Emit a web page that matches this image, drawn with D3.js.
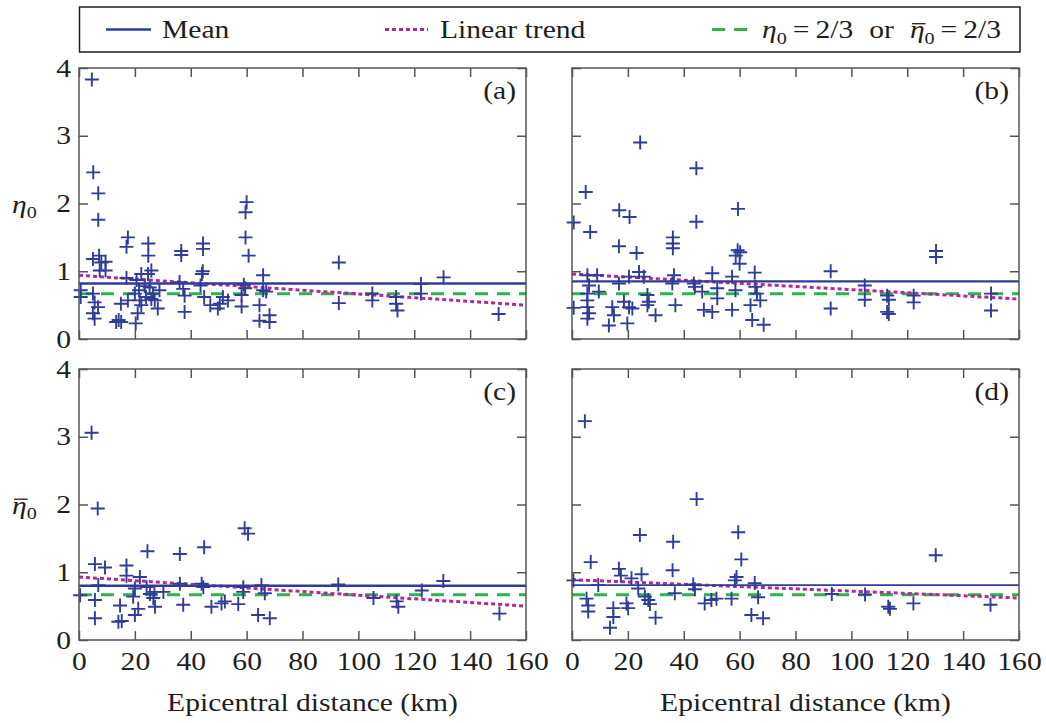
<!DOCTYPE html>
<html>
<head>
<meta charset="utf-8">
<script src="https://cdn.jsdelivr.net/npm/d3@7"></script>
<style>
  html, body { margin: 0; padding: 0; background: #fff; }
  svg text { font-family: "Liberation Serif", "Times New Roman", serif; fill: #1e1e1e; }
  .tick text { font-size: 25.5px; }
</style>
</head>
<body>
<svg id="chart" width="1046" height="723"></svg>
<script>
// ---- data: [epicentral distance (km), value] ----
const ptsA = [
  [4.6,3.83],[5.1,2.46],[6.9,2.15],[6.9,1.76],
  [5.0,1.18],[7.2,1.23],[8.0,1.13],[9.5,1.14],[7.4,1.01],[9.5,1.01],
  [0.6,0.72],[0.6,0.62],
  [5.0,0.67],[5.6,0.54],[6.8,0.47],[5.0,0.38],[5.6,0.30],
  [13.3,0.25],[14.2,0.28],[15.1,0.25],
  [17.5,1.50],[17.0,1.36],[17.0,0.90],[15.0,0.52],[17.5,0.57],
  [20.0,0.67],[21.7,0.57],[22.3,0.50],[21.0,0.38],[20.3,0.23],[20.6,0.87],
  [22.3,0.96],[24.7,0.96],[24.8,1.41],[24.8,1.23],[25.9,1.01],[25.3,0.76],[26.5,0.67],
  [27.1,0.57],[28.8,0.72],[28.2,0.45],[24.0,0.62],[25.9,0.59],[21.5,0.72],[23.5,0.78],
  [36.6,1.30],[36.6,1.24],[36.0,0.84],[37.3,0.74],[37.8,0.64],[37.8,0.40],
  [44.4,1.41],[44.4,1.33],[44.3,1.00],[44.0,0.96],[43.5,0.79],
  [44.8,0.62],[47.0,0.50],[49.7,0.45],[51.5,0.62],[53.3,0.57],[50.4,0.52],
  [60.0,2.02],[59.6,1.87],[59.6,1.50],[60.7,1.23],[59.0,0.80],[59.5,0.75],[58.2,0.65],[58.2,0.48],
  [65.9,0.94],[65.9,0.72],[67.0,0.70],[64.6,0.50],[64.6,0.27],[68.2,0.35],[68.2,0.25],
  [93,1.13],[93,0.53],[105,0.67],[105,0.57],[113.5,0.62],[113.5,0.52],[114,0.42],
  [122.4,0.81],[122.4,0.67],[130.5,0.91],[150.2,0.37]
];
const ptsB = [
  [0.6,1.72],[4.9,2.17],[6.5,1.58],[0.6,0.46],
  [16.9,1.90],[20.6,1.80],[16.8,1.37],[23.1,1.27],[24.4,2.90],
  [44.5,2.52],[44.5,1.73],[36.1,1.50],[36.1,1.41],[36.1,1.34],
  [59.4,1.92],[59.3,1.31],[58.6,1.23],[60.2,1.28],[60.0,1.11],[65.4,0.98],
  [5.5,0.94],[9.0,0.94],[6.1,0.79],[5.5,0.67],[9.6,0.70],[5.5,0.57],[5.5,0.47],[6.1,0.38],[5.5,0.30],
  [16.8,0.82],[20.4,0.92],[24.0,0.99],[25.7,0.92],
  [14.4,0.47],[15.0,0.35],[13.2,0.20],[19.8,0.23],[18.6,0.55],[20.4,0.47],[21.6,0.45],
  [27.0,0.65],[27.5,0.55],[27.0,0.50],[29.9,0.35],
  [36.5,0.94],[35.9,0.82],[37.0,0.50],
  [43.6,0.82],[44.0,0.77],[46.6,0.70],[50.2,0.97],[52.0,0.75],[52.0,0.60],[47.2,0.43],[50.2,0.40],
  [57.3,0.92],[58.5,0.72],[57.3,0.43],
  [65.6,0.77],[66.2,0.67],[67.4,0.57],[63.9,0.50],[64.5,0.28],[68.6,0.21],
  [92.6,1.00],[92.6,0.45],[104.8,0.79],[104.8,0.58],[112.8,0.64],[113.4,0.58],[112.8,0.40],[113.4,0.37],
  [122.3,0.64],[122.3,0.54],[130.3,1.30],[130.3,1.21],[150,0.67],[150,0.42]
];
const ptsC = [
  [4.5,3.06],[6.7,1.94],[5.7,1.12],[9.3,1.07],[17.0,1.10],[24.5,1.31],[36.1,1.27],[44.8,1.37],[59.3,1.65],[60.5,1.57],
  [6.9,0.81],[0.4,0.66],[5.7,0.59],[5.7,0.32],
  [17.0,0.95],[21.8,0.93],[20.0,0.76],[19.4,0.64],[24.2,0.78],[25.4,0.68],[30.2,0.71],
  [14.7,0.51],[21.2,0.46],[20.0,0.37],[14.1,0.27],[15.3,0.28],
  [27.2,0.49],[26.6,0.62],[27.0,0.71],
  [36.1,0.83],[37.3,0.52],[43.9,0.83],[44.5,0.78],
  [47.4,0.49],[52.2,0.57],[51.0,0.54],[57.0,0.53],[58.8,0.78],[58.8,0.71],
  [65.3,0.81],[66.5,0.69],[64.1,0.37],[68.3,0.32],
  [92.8,0.82],[105.4,0.62],[113.7,0.57],[114.3,0.49],[122.7,0.73],[130.4,0.87],[150.5,0.39]
];
const ptsD = [
  [4.6,3.23],[44.6,2.08],[24.3,1.55],[36.2,1.45],[59.5,1.59],[60.6,1.19],[6.7,1.15],[36.0,1.03],
  [16.8,1.05],[17.5,0.95],[24.9,0.97],[21.3,0.91],[0.5,0.88],[9.4,0.81],
  [23.7,0.76],[26.1,0.64],[27.3,0.59],[27.9,0.53],
  [5.2,0.61],[5.8,0.51],[5.8,0.42],
  [14.8,0.47],[14.8,0.34],[13.6,0.18],[19.5,0.54],[20.1,0.47],[29.9,0.33],
  [36.8,0.69],[43.4,0.82],[44.0,0.75],[47.5,0.54],[49.9,0.59],[51.7,0.61],[57.1,0.61],
  [58.9,0.93],[58.3,0.88],[65.4,0.84],[66.6,0.63],[64.2,0.37],[68.4,0.32],
  [93,0.68],[104.9,0.67],[113.2,0.49],[113.8,0.46],[122.2,0.54],[130.2,1.25],[149.8,0.52]
];

const panelTags  = ['(a)', '(b)', '(c)', '(d)'];
const meanVals   = [0.82, 0.85, 0.80, 0.81];
const trendStart = [0.94, 0.96, 0.93, 0.89];   // linear trend at 0 km
const trendEnd   = [0.50, 0.59, 0.50, 0.62];   // linear trend at 160 km
const refVal     = 2 / 3;
const xTicks = [0, 20, 40, 60, 80, 100, 120, 140, 160];
const yTicks = [0, 1, 2, 3, 4];

// ---- layout ----
const BLUE = '#2f3c98', MAGENTA = '#b3279a', GREEN = '#2db34b', FRAME = '#555';
const FS = 25.5, WIDEN = 1.16;   // the original type is set a little wide
const svg = d3.select('#chart');
const PW = 447, PH = 271;
const panels = [
  { pts: ptsA, left: 79,  top: 68,  yLab: true,  xLab: false },
  { pts: ptsB, left: 572, top: 68,  yLab: false, xLab: false },
  { pts: ptsC, left: 79,  top: 369, yLab: true,  xLab: true },
  { pts: ptsD, left: 572, top: 369, yLab: false, xLab: true },
];

const x = d3.scaleLinear().domain([0, 160]).range([0, PW]);
const y = d3.scaleLinear().domain([0, 4]).range([PH, 0]);

// stretch glyphs horizontally to match the source lettering
function widen(sel) {
  sel.each(function() {
    const w = this.getComputedTextLength();
    if (w > 0) d3.select(this).attr('textLength', w * WIDEN).attr('lengthAdjust', 'spacingAndGlyphs');
  });
}

// lay out inline math pieces left to right
function mathText(g, x0, base, parts, size) {
  let cx = x0;
  parts.forEach(p => {
    const fs = p.sub ? size * 0.68 : size;
    const t = g.append('text')
      .attr('x', cx).attr('y', base + (p.sub ? size * 0.22 : 0))
      .style('font-size', fs + 'px')
      .style('font-style', p.it ? 'italic' : 'normal')
      .text(p.t);
    const w = t.node().getComputedTextLength() * WIDEN;
    t.attr('textLength', w).attr('lengthAdjust', 'spacingAndGlyphs');
    if (p.bar) {
      g.append('line')
        .attr('x1', cx + 2).attr('x2', cx + w + 1)
        .attr('y1', base - size * 0.56).attr('y2', base - size * 0.56)
        .attr('stroke', '#1e1e1e').attr('stroke-width', 1.3);
    }
    cx += w + (p.gap || 0);
  });
  return cx;
}

panels.forEach((p, i) => {
  const g = svg.append('g').attr('transform', `translate(${p.left},${p.top})`);

  // ticks (inward on all four sides)
  g.append('g').attr('transform', `translate(0,${PH})`)
    .call(d3.axisBottom(x).tickValues(xTicks).tickSize(-9).tickPadding(12)
      .tickFormat(p.xLab ? d3.format('d') : ''));
  g.append('g').call(d3.axisTop(x).tickValues(xTicks).tickSize(-9).tickFormat(''));
  g.append('g').call(d3.axisLeft(y).tickValues(yTicks).tickSize(-9).tickPadding(8)
    .tickFormat(p.yLab ? d3.format('d') : ''));
  g.append('g').attr('transform', `translate(${PW},0)`)
    .call(d3.axisRight(y).tickValues(yTicks).tickSize(-9).tickFormat(''));
  g.selectAll('.domain').remove();
  g.selectAll('.tick line').attr('stroke', FRAME).attr('stroke-width', 1.5);
  g.selectAll('.tick text').attr('fill', '#1e1e1e').call(widen);

  // reference lines
  g.append('line')
    .attr('x1', x(0)).attr('x2', x(160)).attr('y1', y(refVal)).attr('y2', y(refVal))
    .attr('stroke', GREEN).attr('stroke-width', 3).attr('stroke-dasharray', '13,9');
  g.append('line')
    .attr('x1', x(0)).attr('x2', x(160)).attr('y1', y(trendStart[i])).attr('y2', y(trendEnd[i]))
    .attr('stroke', MAGENTA).attr('stroke-width', 3).attr('stroke-dasharray', '4,3');
  g.append('line')
    .attr('x1', x(0)).attr('x2', x(160)).attr('y1', y(meanVals[i])).attr('y2', y(meanVals[i]))
    .attr('stroke', BLUE).attr('stroke-width', i === 3 ? 1.6 : 2.4);

  // data crosses
  g.append('g').selectAll('path').data(p.pts).join('path')
    .attr('transform', d => `translate(${x(d[0])},${y(d[1])})`)
    .attr('d', 'M-7,0H7M0,-7V7')
    .attr('stroke', BLUE).attr('stroke-width', 1.9).attr('fill', 'none');

  // frame
  g.append('rect').attr('width', PW).attr('height', PH)
    .attr('fill', 'none').attr('stroke', FRAME).attr('stroke-width', 1.5);

  // panel tag
  g.append('text').attr('x', PW - 10).attr('y', 31)
    .attr('text-anchor', 'end').style('font-size', FS + 'px').text(panelTags[i]).call(widen);

  if (p.xLab) {
    g.append('text').attr('x', PW / 2 + 10).attr('y', PH + 71)
      .attr('text-anchor', 'middle').style('font-size', FS + 'px')
      .text('Epicentral distance (km)').call(widen);
  }
  if (p.yLab) {
    mathText(svg, 12, p.top + y(2) + 9,
      [{ t: 'η', it: true, bar: i === 2 }, { t: '0', sub: true }], FS);
  }
});

// ---- legend ----
const lg = svg.append('g');
lg.append('rect').attr('x', 79.5).attr('y', 7).attr('width', 940.5).attr('height', 45)
  .attr('fill', '#fff').attr('stroke', '#1e1e1e').attr('stroke-width', 1.5);
const LY = 29.5, LB = 38;
lg.append('line').attr('x1', 106).attr('x2', 151).attr('y1', LY).attr('y2', LY)
  .attr('stroke', BLUE).attr('stroke-width', 2.5);
lg.append('text').attr('x', 162).attr('y', LB).style('font-size', FS + 'px').text('Mean').call(widen);
lg.append('line').attr('x1', 385).attr('x2', 428).attr('y1', LY).attr('y2', LY)
  .attr('stroke', MAGENTA).attr('stroke-width', 3).attr('stroke-dasharray', '4,3');
lg.append('text').attr('x', 440).attr('y', LB).style('font-size', FS + 'px').text('Linear trend').call(widen);
lg.append('line').attr('x1', 712).attr('x2', 752).attr('y1', LY).attr('y2', LY)
  .attr('stroke', GREEN).attr('stroke-width', 3).attr('stroke-dasharray', '13,9');
mathText(lg, 762, LB, [
  { t: 'η', it: true }, { t: '0', sub: true, gap: 6 },
  { t: '=', gap: 6 }, { t: '2/3', gap: 16 },
  { t: 'or', gap: 16 },
  { t: 'η', it: true, bar: true }, { t: '0', sub: true, gap: 6 },
  { t: '=', gap: 6 }, { t: '2/3' }
], FS);
</script>
</body>
</html>
